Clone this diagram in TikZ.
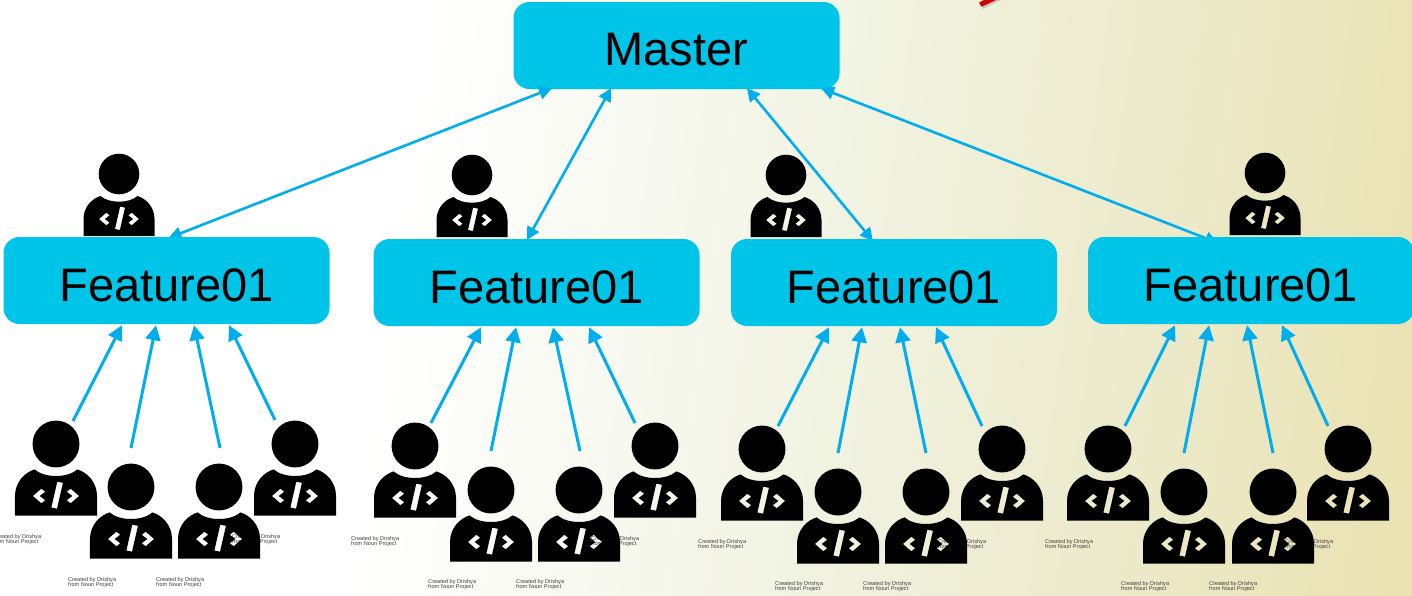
\documentclass[tikz,border=0pt]{standalone}
\usepackage{fontspec}
\setmainfont{Liberation Sans}
\usetikzlibrary{calc,arrows.meta}
\definecolor{boxblue}{HTML}{00C4E8}
\definecolor{linkblue}{HTML}{00AEEF}
\definecolor{bgA}{HTML}{FFFFFF}
\definecolor{bgB}{HTML}{F1F3E2}
\definecolor{bgC}{HTML}{ECE9C8}
\definecolor{bgD}{HTML}{E9DFA8}
\pgfdeclarehorizontalshading{pagebg}{100bp}{color(0bp)=(bgA); color(38bp)=(bgA); color(55bp)=(bgB); color(68bp)=(bgC); color(82bp)=(bgD); color(100bp)=(bgD)}
\tikzset{
  box/.style={draw=none,fill=boxblue,rounded corners=16,minimum width=326,minimum height=87,inner sep=0,font=\fontsize{47}{50}\selectfont,text=black,text height=42pt,text depth=0pt},
  link/.style={draw=linkblue,line width=3,-{Triangle[length=15,width=15]}},
  dlink/.style={draw=linkblue,line width=2.6,{Triangle[length=13,width=13]}-{Triangle[length=13,width=13]}},
  credit/.style={font=\fontsize{5.6}{5.5}\selectfont,text=black!75,anchor=north west,align=left,inner sep=0},
  person/.pic={
    \fill[black,even odd rule]
      (0,0) circle[radius=20.3]
      (-35.5,62) -- (-35.5,45) .. controls (-35.5,33) and (-27,24.5) .. (-18.5,22)
        .. controls (-10,29.6) and (10,29.6) .. (18.5,22)
        .. controls (27,24.5) and (35.5,33) .. (35.5,45) -- (35.5,62) -- cycle
      (-4,55) -- (1.1,32.6) -- (6,33.6) -- (0.9,56) -- cycle
      (-20,45) -- (-12.7,38.7) -- (-9.3,41.3) -- (-14.1,45) -- (-9.3,48.7) -- (-12.7,51.3) -- cycle
      (20,45) -- (12.7,38.7) -- (9.3,41.3) -- (14.1,45) -- (9.3,48.7) -- (12.7,51.3) -- cycle;
  }
}
\newcommand{\cred}[2]{\node[credit] at (#1,#2) {Created by Drishya\\from Noun Project};}
\begin{document}
\begin{tikzpicture}[x=1pt,y=-1pt]
\useasboundingbox (0,0) rectangle (1412,595);
\shade[shading=pagebg,shading angle=-8] (0,0) rectangle (1412,595);
% red stripe
\fill[black!22] (980,5) -- (983,9) -- (1001,0) -- (988,0) -- cycle;
\fill[red!80!black] (979,2.7) -- (981.7,6.7) -- (996,0) -- (984,0) -- cycle;
% credits
\cred{-7}{534}\cred{68}{577}\cred{156}{577}\cred{232}{534}
\cred{351}{536}\cred{428}{579}\cred{516}{579}\cred{591}{536}
\cred{698}{539}\cred{775}{581}\cred{863}{581}\cred{938}{539}
\cred{1045}{539}\cred{1121}{581}\cred{1209}{581}\cred{1285}{539}
% people
\foreach \n/\x/\y in {t1/119/174,t2/472/175,t3/786/175,t4/1265/173}{
  \coordinate (\n) at (\x,\y);
  \pic at (\n) {person};
}
\foreach \n/\x/\y in {a1/56/444,a2/131/487,a3/219/487,a4/295/444,
  b1/415/446,b2/491/490,b3/579/490,b4/655/446,
  c1/762/449,c2/838/492,c3/926/492,c4/1002/449,
  d1/1108/449,d2/1184/492,d3/1273/492,d4/1348/449}{
  \coordinate (\n) at (\x,\y);
  \pic[scale=1.155] at (\n) {person};
}
% boxes
\node[box,text height=40pt] (master) at (676.5,45.5) {Master};
\coordinate (f1n) at (166.5,237);
\coordinate (f2n) at (536.5,239);
\coordinate (f3n) at (894,239);
\coordinate (f4n) at (1251,237);
% links master-feature (the feature boxes lie over their ends)
\draw[dlink] ($(master.south)+(-124.5,-1)$) -- ($(f1n)+(2,1)$);
\draw[dlink] ($(master.south)+(-65.5,-1)$) -- ($(f2n)+(-9.5,1)$);
\draw[dlink] ($(master.south)+(70.5,-1)$) -- ($(f3n)+(-21,2)$);
\draw[dlink] ($(master.south)+(144.5,-1)$) -- ($(f4n)+(-33,6)$);
\node[box] (f1) at (166.5,280.5) {Feature01};
\node[box] (f2) at (536.5,282.5) {Feature01};
\node[box] (f3) at (894,282.5) {Feature01};
\node[box] (f4) at (1251,280.5) {Feature01};
% links people-feature
\foreach \p/\f/\ax/\ay/\bx in {
  a1/f1/17/-23/-44.5, a2/f1/0/-39/-10.5, a3/f1/1/-39/27.5, a4/f1/-20/-24/62.5,
  b1/f2/16/-23/-55.5, b2/f2/0/-39/-20.5, b3/f2/1/-39/16.5, b4/f2/-20/-23/52.5,
  c1/f3/16/-23/-65, c2/f3/0/-39/-32, c3/f3/0/-39/6, c4/f3/-20/-23/42,
  d1/f4/17/-23/-76, d2/f4/0/-39/-42, d3/f4/0/-39/-4, d4/f4/-20/-23/31}{
  \draw[link] ($(\p)+(\ax,\ay)$) -- ($(\f.south)+(\bx,1)$);
}
\end{tikzpicture}
\end{document}
